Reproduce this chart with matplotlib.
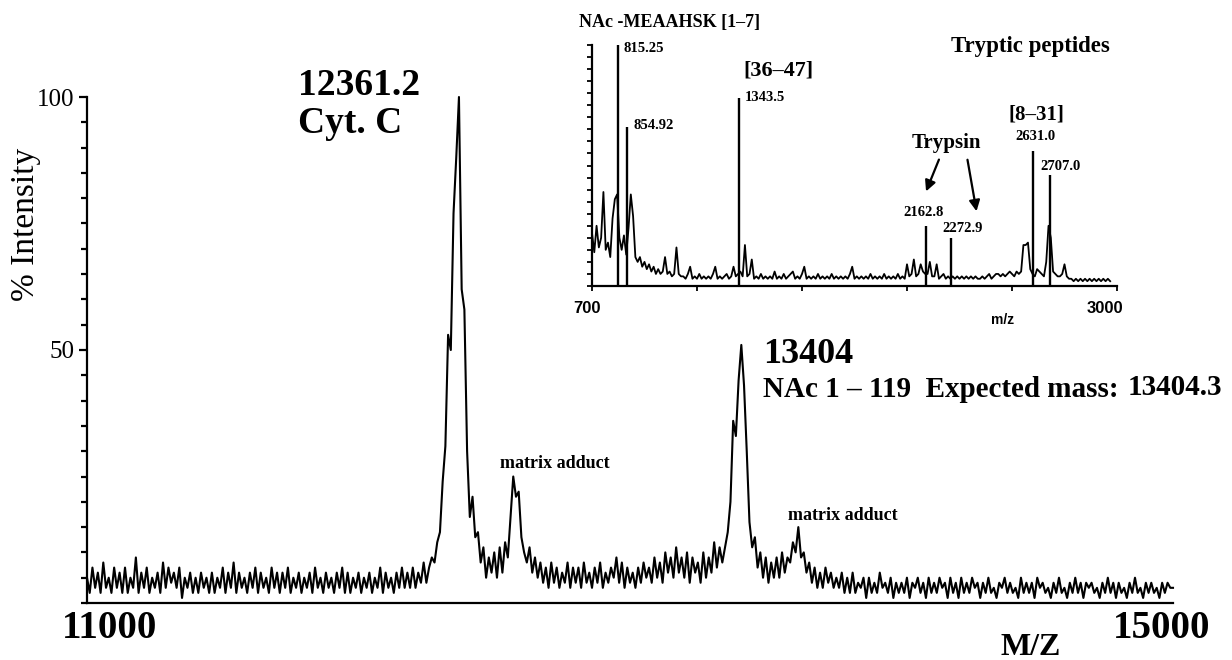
import numpy as np
import matplotlib
matplotlib.use("Agg")
import matplotlib.pyplot as plt
from matplotlib.patches import FancyArrowPatch

# ---------------- data ----------------
main_mz_start = 11000
main_mz_step = 10
main_intensity = [
    5, 2, 7, 3, 6, 2, 8, 3, 5, 2, 7, 3, 6, 2, 7, 2, 5, 3, 9, 2,
    6, 3, 7, 2, 5, 3, 6, 2, 8, 3, 7, 4, 6, 3, 7, 1, 5, 3, 6, 2,
    5, 2, 6, 3, 5, 2, 6, 2, 5, 3, 7, 2, 6, 3, 8, 2, 6, 3, 5, 2,
    6, 3, 7, 2, 6, 3, 5, 2, 7, 3, 6, 2, 6, 3, 7, 2, 5, 3, 6, 2,
    5, 3, 6, 2, 7, 3, 5, 2, 6, 3, 5, 2, 6, 3, 7, 2, 6, 2, 5, 3,
    6, 2, 5, 3, 6, 2, 5, 3, 7, 2, 6, 3, 5, 2, 6, 3, 7, 3, 6, 3,
    7, 3, 6, 4, 8, 4, 7, 9, 8, 12, 14, 24, 31, 53, 50, 77, 88, 100, 62, 58,
    30, 17, 21, 13, 14, 8, 11, 5, 9, 6, 10, 5, 11, 6, 12, 9, 17, 25, 21, 22,
    13, 10, 8, 11, 6, 9, 5, 8, 4, 7, 3, 8, 4, 7, 3, 6, 4, 8, 3, 7,
    4, 7, 3, 8, 4, 6, 3, 7, 4, 8, 3, 6, 4, 7, 5, 9, 4, 8, 3, 7,
    4, 6, 3, 7, 4, 8, 5, 7, 4, 9, 5, 8, 4, 10, 6, 9, 5, 11, 6, 9,
    5, 10, 4, 9, 6, 8, 4, 10, 5, 9, 6, 12, 7, 11, 8, 11, 14, 20, 36, 33,
    44, 51, 43, 30, 16, 11, 13, 7, 10, 5, 9, 4, 8, 5, 9, 5, 10, 6, 9, 8,
    12, 10, 15, 9, 10, 6, 8, 4, 7, 3, 6, 3, 7, 4, 6, 3, 5, 3, 6, 2,
    5, 2, 6, 2, 4, 3, 5, 1, 5, 2, 4, 2, 6, 3, 4, 2, 5, 1, 4, 2,
    4, 2, 5, 1, 4, 3, 5, 2, 4, 1, 5, 2, 4, 2, 5, 3, 4, 1, 5, 2,
    4, 1, 5, 2, 4, 2, 5, 3, 4, 1, 4, 2, 5, 2, 3, 1, 4, 3, 5, 2,
    4, 2, 3, 1, 5, 2, 4, 2, 4, 1, 5, 3, 4, 2, 3, 1, 4, 2, 5, 2,
    3, 1, 4, 2, 5, 2, 4, 1, 4, 3, 4, 2, 3, 1, 4, 2, 5, 2, 4, 1,
    4, 2, 3, 1, 4, 2, 5, 2, 3, 1, 4, 2, 4, 2, 3, 1, 4, 2, 4, 3,
    3,
]

inset_mz_start = 700
inset_mz_step = 10
inset_intensity = [
    22, 14, 25, 16, 20, 39, 15, 18, 12, 28,
    36, 38, 20, 15, 21, 13, 24, 38, 29, 12,
    10, 12, 8, 10, 7, 9, 6, 8, 5, 7,
    5, 6, 12, 5, 6, 4, 5, 16, 5, 4,
    4, 3, 5, 8, 3, 4, 3, 5, 3, 4,
    3, 4, 3, 5, 8, 3, 4, 3, 4, 5,
    3, 4, 8, 4, 5, 6, 4, 17, 4, 5,
    11, 3, 4, 3, 5, 3, 4, 3, 4, 3,
    6, 3, 4, 3, 5, 3, 4, 5, 6, 3,
    4, 3, 5, 8, 3, 4, 3, 4, 3, 5,
    3, 4, 3, 4, 3, 5, 3, 4, 3, 4,
    3, 4, 3, 5, 8, 3, 4, 3, 4, 3,
    4, 3, 5, 3, 4, 3, 4, 3, 5, 3,
    4, 3, 4, 3, 5, 3, 4, 3, 9, 4,
    5, 11, 4, 5, 9, 6, 5, 5, 10, 4,
    4, 9, 3, 4, 5, 3, 4, 3, 4, 3,
    4, 3, 4, 3, 4, 3, 4, 3, 4, 3,
    3, 4, 3, 4, 5, 3, 4, 5, 5, 4,
    5, 4, 5, 6, 5, 4, 6, 5, 6, 17,
    17, 18, 7, 5, 4, 7, 6, 5, 4, 10,
    25, 20, 6, 5, 4, 4, 5, 9, 4, 3,
    3, 2, 3, 2, 3, 2, 3, 2, 3, 2,
    3, 2, 3, 2, 3, 2, 3, 2,
]

peak_mz = [815.25, 854.92, 1343.5, 2162.8, 2272.9, 2631.0, 2707.0]
peak_height = [100, 66, 78, 25, 20, 56, 46]
peak_labels = ["815.25", "854.92", "1343.5", "2162.8", "2272.9", "2631.0", "2707.0"]

# ---------------- figure ----------------
W, H = 1232, 660
fig = plt.figure(figsize=(W / 100, H / 100), dpi=100)
fig.patch.set_facecolor("white")

SERIF = ["Liberation Serif", "DejaVu Serif"]
SANS = ["Liberation Sans", "DejaVu Sans"]


def fx(px):
    return px / W


def fy(py):
    return 1 - py / H


def ftext(px, py, s, size, weight="bold", family=SERIF, ha="left", va="baseline", **kw):
    fig.text(fx(px), fy(py), s, fontsize=size, fontweight=weight, family=family,
             ha=ha, va=va, color="black", **kw)


# main axes
ax = fig.add_axes([fx(87), fy(603), fx(1173) - fx(87), fy(97) - fy(603)])
ax.set_facecolor("none")
mz = main_mz_start + main_mz_step * np.arange(len(main_intensity))
ax.plot(mz, main_intensity, color="black", lw=1.5, clip_on=False)
ax.set_xlim(11000, 15000)
ax.set_ylim(0, 100)
for s in ("top", "right"):
    ax.spines[s].set_visible(False)
for s in ("left", "bottom"):
    ax.spines[s].set_linewidth(1.6)
ax.set_xticks([])
ax.set_yticks([50, 100])
ax.set_yticklabels(["50", "100"], family=SERIF, fontsize=18)
ax.set_yticks(np.arange(0, 101, 5), minor=True)
ax.tick_params(axis="y", which="major", length=6, width=1.6, direction="out", pad=3)
ax.tick_params(axis="y", which="minor", length=4, width=1.6, direction="out")

ftext(26, 224, "% Intensity", 24, weight="normal", ha="center", va="center", rotation=90)
ftext(110, 638, "11000", 28, ha="center")
ftext(1162, 638, "15000", 28, ha="center")
ftext(1031, 655, "M/Z", 23, ha="center")

ftext(298, 95, "12361.2", 27)
ftext(298, 133, "Cyt. C", 27)
ftext(763, 363, "13404", 26)
ftext(763, 397, "NAc 1 \u2013 119  Expected mass:", 21)
ftext(1128, 395, "13404.3", 21)
ftext(500, 468, "matrix adduct", 13)
ftext(788, 520, "matrix adduct", 13)

# inset axes
ax2 = fig.add_axes([fx(592), fy(286), fx(1117) - fx(592), fy(45) - fy(286)])
ax2.set_facecolor("none")
imz = inset_mz_start + inset_mz_step * np.arange(len(inset_intensity))
ax2.plot(imz, inset_intensity, color="black", lw=1.3, clip_on=False)
ax2.vlines(peak_mz, 0, peak_height, color="black", lw=1.7, clip_on=False)
ax2.set_xlim(700, 3000)
ax2.set_ylim(0, 100)
for s in ("top", "right"):
    ax2.spines[s].set_visible(False)
for s in ("left", "bottom"):
    ax2.spines[s].set_linewidth(1.6)
ax2.set_xticks(np.linspace(700, 3000, 6))
ax2.set_xticklabels([])
ax2.set_yticks(np.linspace(0, 100, 21))
ax2.set_yticklabels([])
ax2.tick_params(axis="both", which="major", length=3.5, width=1.3, direction="out")

ftext(587, 313, "700", 12, family=SANS, ha="center")
ftext(1105, 313, "3000", 12, family=SANS, ha="center")
ftext(1003, 324, "m/z", 10, family=SANS, ha="center")

ftext(579, 27, "NAc -MEAAHSK [1\u20137]", 13)
ftext(1030, 52, "Tryptic peptides", 16.5, ha="center")
ftext(743, 76, "[36\u201347]", 16)
ftext(1008, 119, "[8\u201331]", 15)
ftext(912, 148, "Trypsin", 15)

label_px = [(623, 52), (633, 129), (745, 101), (903, 216), (942, 232), (1015, 140), (1040, 170)]
for (px, py), lab in zip(label_px, peak_labels):
    ftext(px, py, lab, 10.5)

for (x0, y0), (x1, y1) in [((940, 157), (925, 194)), ((967, 157), (977, 214))]:
    arr = FancyArrowPatch((fx(x0), fy(y0)), (fx(x1), fy(y1)), transform=fig.transFigure,
                          arrowstyle="-|>", mutation_scale=16, lw=1.6, color="black")
    fig.add_artist(arr)

fig.savefig("out.png", dpi=100, facecolor="white")
